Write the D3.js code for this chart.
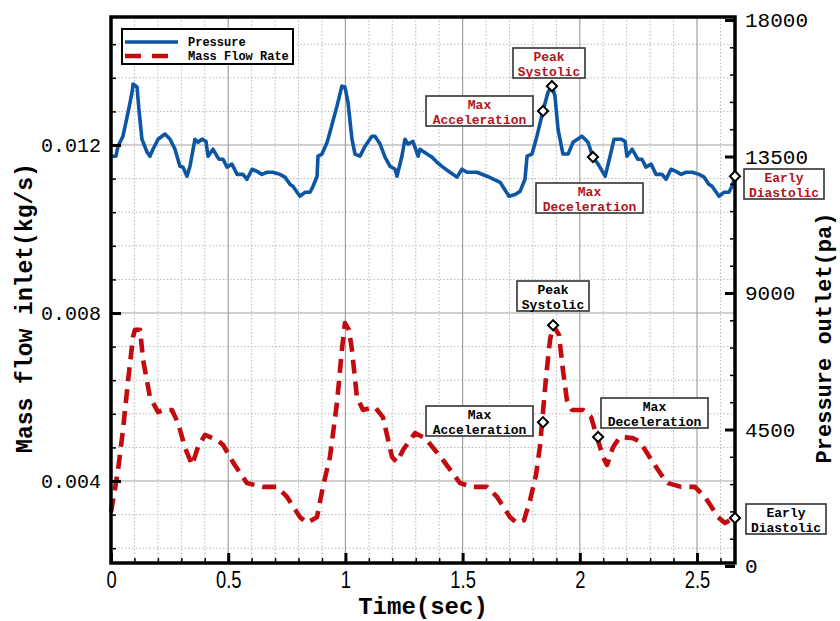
<!DOCTYPE html>
<html><head><meta charset="utf-8">
<script src="https://cdn.jsdelivr.net/npm/d3@7"></script>
<style>body{margin:0;background:#fff}svg{display:block}</style>
</head><body><svg id="c" width="840" height="621"></svg>
<script>
// ---------------- data ----------------
const pressureTime = [0.000,0.021,0.030,0.051,0.073,0.090,0.094,0.111,0.119,0.132,0.154,0.166,0.179,0.201,0.230,0.252,0.273,0.294,0.307,0.324,0.337,0.358,0.371,0.388,0.405,0.414,0.435,0.452,0.461,0.478,0.495,0.516,0.538,0.563,0.580,0.602,0.623,0.644,0.666,0.691,0.721,0.742,0.764,0.776,0.806,0.828,0.849,0.862,0.879,0.883,0.900,0.922,0.934,0.964,0.985,0.998,1.011,1.028,1.041,1.062,1.084,1.113,1.126,1.148,1.169,1.190,1.212,1.220,1.241,1.254,1.267,1.288,1.310,1.318,1.348,1.369,1.391,1.416,1.446,1.476,1.497,1.519,1.561,1.604,1.660,1.698,1.724,1.745,1.766,1.775,1.796,1.817,1.843,1.864,1.881,1.894,1.907,1.928,1.950,1.971,2.009,2.035,2.056,2.078,2.108,2.129,2.146,2.176,2.193,2.201,2.223,2.240,2.248,2.265,2.282,2.304,2.325,2.351,2.368,2.389,2.410,2.432,2.453,2.479,2.509,2.530,2.551,2.564,2.594,2.615,2.636,2.649,2.662];
const pressure = [13510,13510,13840,14170,14960,15620,15890,15790,15060,14070,13640,13510,13740,14070,14240,14070,13740,13180,13150,12850,13180,14070,13970,14070,14000,13510,13740,13510,13410,13410,13150,13250,12910,12910,12750,13080,13010,12910,12980,12980,12910,12820,12580,12520,12190,12320,12320,12520,12850,13510,13580,13970,14300,15160,15820,15790,15290,14070,13580,13510,13840,14170,14170,13910,13480,13180,13080,12850,13510,14070,13910,14000,13510,13740,13580,13480,13310,13150,12980,12820,13080,12980,12980,12850,12650,12190,12250,12350,12750,13510,13580,14170,15000,15620,15820,15490,14400,13580,13580,13970,14170,13970,13480,13250,12850,13510,14070,14070,14000,13510,13740,13510,13410,13410,13150,13250,12910,12910,12750,13080,13010,12910,12980,12980,12910,12820,12580,12520,12190,12320,12320,12520,12850];

const massTime = [0.000,0.009,0.030,0.051,0.073,0.094,0.102,0.124,0.137,0.166,0.201,0.222,0.260,0.286,0.316,0.346,0.371,0.401,0.452,0.478,0.520,0.580,0.648,0.708,0.751,0.806,0.836,0.879,0.904,0.934,0.964,0.985,0.998,1.015,1.028,1.049,1.075,1.126,1.160,1.199,1.220,1.246,1.297,1.340,1.374,1.416,1.455,1.489,1.544,1.604,1.647,1.702,1.732,1.762,1.788,1.813,1.830,1.856,1.873,1.886,1.911,1.928,1.945,1.967,2.014,2.048,2.073,2.099,2.116,2.142,2.172,2.227,2.257,2.300,2.351,2.376,2.432,2.491,2.534,2.590,2.619,2.662];
const massFlow = [0.00326,0.00355,0.00426,0.00521,0.00640,0.00743,0.00760,0.00760,0.00688,0.00600,0.00564,0.00569,0.00569,0.00538,0.00479,0.00438,0.00481,0.00510,0.00498,0.00486,0.00445,0.00395,0.00386,0.00386,0.00362,0.00314,0.00300,0.00314,0.00386,0.00457,0.00586,0.00712,0.00776,0.00760,0.00712,0.00600,0.00569,0.00576,0.00552,0.00457,0.00445,0.00474,0.00514,0.00502,0.00479,0.00450,0.00421,0.00395,0.00386,0.00386,0.00362,0.00314,0.00300,0.00307,0.00355,0.00414,0.00483,0.00648,0.00736,0.00771,0.00748,0.00664,0.00593,0.00569,0.00569,0.00552,0.00505,0.00457,0.00438,0.00481,0.00505,0.00502,0.00493,0.00455,0.00412,0.00395,0.00386,0.00386,0.00362,0.00314,0.00300,0.00314];

const seriesNames = ["Pressure", "Mass Flow Rate"];
const xTickValues = [0, 0.5, 1, 1.5, 2, 2.5];
const xTickLabels = ["0", "0.5", "1", "1.5", "2", "2.5"];
const leftTickValues = [0.004, 0.008, 0.012];
const leftTickLabels = ["0.004", "0.008", "0.012"];
const rightTickValues = [0, 4500, 9000, 13500, 18000];
const rightTickLabels = ["0", "4500", "9000", "13500", "18000"];
const eventNames = [["Peak","Systolic"], ["Max","Acceleration"], ["Max","Deceleration"], ["Early","Diastolic"]];
const pressureEventTime = [1.881, 1.843, 2.056, 2.662];
const pressureEventValue = [15820, 15000, 13480, 12850];
const massEventTime = [1.886, 1.843, 2.078, 2.662];
const massEventValue = [0.00771, 0.00540, 0.00505, 0.00312];

// ---------------- layout ----------------
const L = 111, R = 735, T = 17, B = 563;
const BLUE = "#0d56a3", RED = "#c20a0f", NOTE_RED = "#b3141c";
const MONO = "'Liberation Mono','DejaVu Sans Mono',monospace";

const svg = d3.select("#c");
const x = d3.scaleLinear().domain([0, 2.662]).range([L, R]);
const yL = d3.scaleLinear().domain([0.004, 0.012]).range([481, 145]);
const yR = d3.scaleLinear().domain([0, 18000]).range([566, 20]);

// grid
const g = svg.append("g");
const minorX = d3.range(1, 27).map(i => i / 10).filter(v => Math.abs(v * 2 - Math.round(v * 2)) > 1e-6);
const minorY = d3.range(3, 19).map(i => i * 0.0008).filter(v => !leftTickValues.some(t => Math.abs(t - v) < 1e-7))
  .filter(v => yL(v) > T + 1 && yL(v) < B - 1);
g.selectAll(".vx").data(minorX).join("line")
  .attr("x1", d => x(d)).attr("x2", d => x(d)).attr("y1", T).attr("y2", B)
  .attr("stroke", "#b8b8b8").attr("stroke-width", 1).attr("stroke-dasharray", "1.5,2");
g.selectAll(".hy").data(minorY).join("line")
  .attr("x1", L).attr("x2", R).attr("y1", d => yL(d)).attr("y2", d => yL(d))
  .attr("stroke", "#b8b8b8").attr("stroke-width", 1).attr("stroke-dasharray", "1.5,2");
g.selectAll(".VX").data(xTickValues.filter(v => v > 0)).join("line")
  .attr("x1", d => x(d)).attr("x2", d => x(d)).attr("y1", T).attr("y2", B)
  .attr("stroke", "#a2a2a2").attr("stroke-width", 1.2);
g.selectAll(".HY").data(leftTickValues).join("line")
  .attr("x1", L).attr("x2", R).attr("y1", d => yL(d)).attr("y2", d => yL(d))
  .attr("stroke", "#a2a2a2").attr("stroke-width", 1.2);

// curves
const pData = pressureTime.map((t, i) => [t, pressure[i]]);
const mData = massTime.map((t, i) => [t, massFlow[i]]);
svg.append("path").datum(mData)
  .attr("d", d3.line().x(d => x(d[0])).y(d => yL(d[1])))
  .attr("fill", "none").attr("stroke", RED).attr("stroke-width", 4.6)
  .attr("stroke-dasharray", "14,8").attr("stroke-linejoin", "round");
svg.append("path").datum(pData)
  .attr("d", d3.line().x(d => x(d[0])).y(d => yR(d[1])))
  .attr("fill", "none").attr("stroke", BLUE).attr("stroke-width", 3.6)
  .attr("stroke-linejoin", "round");

// axes
function styleAxis(sel) {
  sel.select(".domain").remove();
  sel.selectAll(".tick line").attr("stroke", "#000").attr("stroke-width", 3);
}
const bottomMinor = svg.append("g").attr("transform", `translate(0,${B})`)
  .call(d3.axisBottom(x).tickValues(minorX).tickSize(-5).tickFormat(""));
styleAxis(bottomMinor); bottomMinor.selectAll(".tick line").attr("stroke-width", 1.5);
const bottom = svg.append("g").attr("transform", `translate(0,${B})`)
  .call(d3.axisBottom(x).tickValues(xTickValues).tickSize(-10).tickPadding(9)
    .tickFormat((d, i) => xTickLabels[i]));
styleAxis(bottom);
bottom.selectAll(".tick text").attr("font-family", "'Liberation Sans',Arial,sans-serif")
  .attr("font-size", 23).attr("fill", "#000").attr("transform", "scale(0.8,1)");

const leftMinor = svg.append("g").attr("transform", `translate(${L},0)`)
  .call(d3.axisLeft(yL).tickValues(minorY).tickSize(-5).tickFormat(""));
styleAxis(leftMinor); leftMinor.selectAll(".tick line").attr("stroke-width", 1.5);
const left = svg.append("g").attr("transform", `translate(${L},0)`)
  .call(d3.axisLeft(yL).tickValues(leftTickValues).tickSize(-10).tickPadding(10)
    .tickFormat((d, i) => leftTickLabels[i]));
styleAxis(left);
left.selectAll(".tick text").attr("font-family", MONO).attr("font-size", 20).attr("fill", "#000");

const rightMinorVals = d3.range(1, 20).map(i => i * 900).filter(v => v % 4500 !== 0);
const rightMinor = svg.append("g").attr("transform", `translate(${R},0)`)
  .call(d3.axisRight(yR).tickValues(rightMinorVals).tickSize(-5).tickFormat(""));
styleAxis(rightMinor); rightMinor.selectAll(".tick line").attr("stroke-width", 1.5);
const right = svg.append("g").attr("transform", `translate(${R},0)`)
  .call(d3.axisRight(yR).tickValues(rightTickValues).tickSize(-10).tickPadding(10)
    .tickFormat((d, i) => rightTickLabels[i]));
styleAxis(right);
right.selectAll(".tick text").attr("font-family", MONO).attr("font-size", 21).attr("fill", "#000");

// frame
svg.append("rect").attr("x", L).attr("y", T).attr("width", R - L).attr("height", B - T)
  .attr("fill", "none").attr("stroke", "#000").attr("stroke-width", 3.5);

// titles
svg.append("text").attr("x", (L + R) / 2).attr("y", 614).attr("text-anchor", "middle")
  .attr("font-family", MONO).attr("font-weight", "bold").attr("font-size", 24).text("Time(sec)");
svg.append("text").attr("transform", "translate(32,308) rotate(-90)").attr("text-anchor", "middle")
  .attr("font-family", MONO).attr("font-weight", "bold").attr("font-size", 23).text("Mass flow inlet(kg/s)");
svg.append("text").attr("transform", "translate(831,338) rotate(-90)").attr("text-anchor", "middle")
  .attr("font-family", MONO).attr("font-weight", "bold").attr("font-size", 22).text("Pressure outlet(pa)");

// legend
const lg = svg.append("g");
lg.append("rect").attr("x", 122).attr("y", 29).attr("width", 171).attr("height", 35)
  .attr("fill", "#fff").attr("stroke", "#000").attr("stroke-width", 2);
lg.append("line").attr("x1", 125).attr("x2", 178).attr("y1", 42).attr("y2", 42)
  .attr("stroke", BLUE).attr("stroke-width", 3.6);
lg.append("line").attr("x1", 125).attr("x2", 168).attr("y1", 56).attr("y2", 56)
  .attr("stroke", RED).attr("stroke-width", 4.5).attr("stroke-dasharray", "16,11");
lg.selectAll("text").data(seriesNames).join("text")
  .attr("x", 188).attr("y", (d, i) => 46 + i * 14)
  .attr("font-family", MONO).attr("font-weight", "bold").attr("font-size", 12).text(d => d);

// annotations (box positions are layout only)
const pressureBoxes = [[513, 48, 72], [426, 96, 107], [536, 183, 107], [744, 169, 80]];
const massBoxes = [[517, 281, 72], [426, 406, 107], [601, 398, 107], [746, 504, 80]];
function drawBoxes(boxes, color) {
  boxes.forEach((b, i) => {
    const gg = svg.append("g");
    gg.append("rect").attr("x", b[0]).attr("y", b[1]).attr("width", b[2]).attr("height", 30)
      .attr("fill", "#fff").attr("stroke", "#333").attr("stroke-width", 1.6);
    gg.selectAll("text").data(eventNames[i]).join("text")
      .attr("x", b[0] + b[2] / 2).attr("y", (d, j) => b[1] + 12.5 + j * 15)
      .attr("text-anchor", "middle").attr("font-family", MONO).attr("font-weight", "bold")
      .attr("font-size", 13).attr("fill", color).text(d => d);
  });
}
drawBoxes(pressureBoxes, NOTE_RED);
drawBoxes(massBoxes, "#000");

function drawMarkers(times, vals, ys) {
  svg.append("g").selectAll("path").data(times).join("path")
    .attr("d", d3.symbol(d3.symbolSquare, 52)())
    .attr("transform", (d, i) => `translate(${x(d)},${ys(vals[i])}) rotate(45)`)
    .attr("fill", "#fff").attr("stroke", "#000").attr("stroke-width", 2);
}
drawMarkers(pressureEventTime, pressureEventValue, yR);
drawMarkers(massEventTime, massEventValue, yL);
</script>
</body></html>
